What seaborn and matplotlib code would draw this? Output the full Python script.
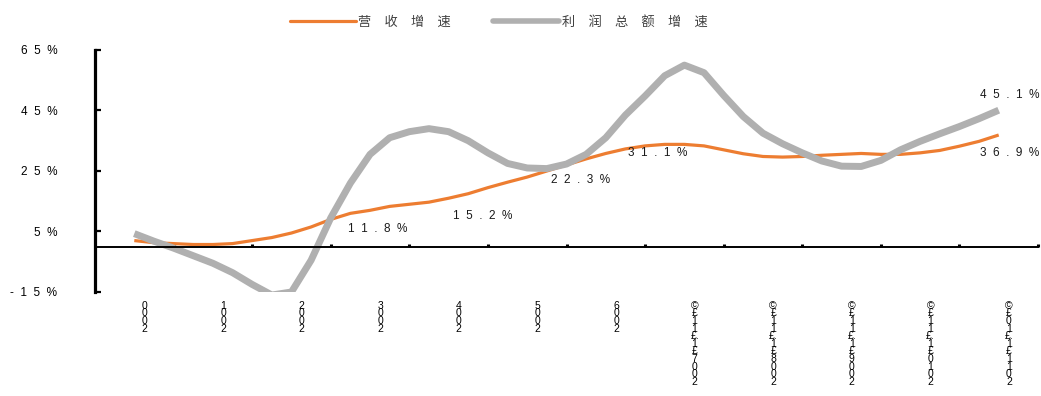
import numpy as np
import pandas as pd
import matplotlib
matplotlib.use("Agg")
import matplotlib.pyplot as plt
from matplotlib.lines import Line2D
import seaborn as sns

# ---------------- data ----------------
series_names = ["营\u3000收\u3000增\u3000速", "利\u3000润\u3000总\u3000额\u3000增\u3000速"]

# category tick labels (as they appear, characters stacked)
cat_labels = [
    "0\n0\n0\n2", "1\n0\n0\n2", "2\n0\n0\n2", "3\n0\n0\n2", "4\n0\n0\n2",
    "5\n0\n0\n2", "6\n0\n0\n2",
    "©\n£\n1\n1\n£.\n1\n£\n7\n0\n0\n2",
    "©\n£\n1\n1\n£.\n1\n£\n8\n0\n0\n2",
    "©\n£\n1\n1\n£.\n1\n£\n9\n0\n0\n2",
    "©\n£\n1\n1\n£.\n1\n£\n0\n1\n0\n2",
    "©\n£\n0\n1\n£.\n1\n£\n1\n1\n0\n2",
]

revenue = [2.0, 1.3, 1.0, 0.7, 0.7, 1.0, 2.0, 3.0, 4.5, 6.5, 9.0, 11.0, 12.0,
           13.3, 14.0, 14.7, 16.0, 17.5, 19.5, 21.3, 23.0, 25.0, 27.0, 29.0,
           30.8, 32.3, 33.3, 33.8, 33.8, 33.3, 32.0, 30.7, 29.8, 29.6, 29.8,
           30.2, 30.5, 30.8, 30.5, 30.5, 31.0, 31.8, 33.2, 34.8, 36.9]
profit = [4.3, 1.8, -0.5, -3.0, -5.5, -8.6, -12.5, -16.0, -15.0, -4.5, 9.5,
          21.0, 30.5, 36.0, 38.0, 39.0, 38.0, 35.0, 31.0, 27.5, 26.0, 25.8,
          27.3, 30.5, 36.0, 43.5, 49.8, 56.5, 60.0, 57.5, 50.0, 43.0, 37.5,
          34.0, 31.0, 28.3, 26.6, 26.5, 28.5, 32.0, 34.8, 37.3, 39.7, 42.3, 45.1]

y_ticks = [-15, 5, 25, 45, 65]
y_tick_labels = ["-  1  5  %", "5  %", "2  5  %", "4  5  %", "6  5  %"]

# data labels: (text, series index, point index)
value_labels = [
    ("1  1  .  8  %", 0, 12),
    ("1  5  .  2  %", 0, 18),
    ("2  2  .  3  %", 0, 23),
    ("3  1  .  1  %", 0, 27),
    ("3  6  .  9  %", 0, 44),
    ("4  5  .  1  %", 1, 44),
]

# ---------------- style ----------------
sns.set_theme(style="white")
plt.rcParams["font.family"] = ["Liberation Sans", "Noto Sans CJK SC", "DejaVu Sans"]

orange = "#ED7D31"
gray = "#B0B0B0"

n_cat = len(cat_labels)
t = 0.5 + 0.25 * np.arange(len(revenue))  # period position of each sample

df = pd.DataFrame({
    "t": np.concatenate([t, t]),
    "v": revenue + profit,
    "s": [series_names[0]] * len(revenue) + [series_names[1]] * len(profit),
})

fig = plt.figure(figsize=(10.41, 3.96), dpi=100)
ax = fig.add_axes([95 / 1041, 1 - 292 / 396, (1038 - 95) / 1041, (292 - 50) / 396])

sns.lineplot(data=df, x="t", y="v", hue="s", size="s",
             palette={series_names[0]: orange, series_names[1]: gray},
             sizes={series_names[0]: 2.3, series_names[1]: 5.0},
             hue_order=series_names, size_order=series_names,
             legend=False, ax=ax, sort=False)
for ln in ax.lines:
    ln.set_solid_capstyle("butt")
    ln.set_solid_joinstyle("round")

ax.set_xlim(0, n_cat)
ax.set_ylim(-15, 65)
ax.set_xlabel("")
ax.set_ylabel("")

for side in ["top", "right"]:
    ax.spines[side].set_visible(False)
ax.spines["left"].set_linewidth(2.3)
ax.spines["left"].set_color("black")
ax.spines["bottom"].set_position(("data", 0))
ax.spines["bottom"].set_linewidth(1.4)
ax.spines["bottom"].set_color("black")

# y axis
ax.set_yticks(y_ticks)
ax.set_yticklabels(y_tick_labels)
ax.tick_params(axis="y", direction="in", length=4, width=1.6, pad=27,
               labelsize=8.5, colors="black", left=True)

# x axis: boundary ticks + category labels
ax.set_xticks(np.arange(1, n_cat + 1))
ax.set_xticklabels([])
ax.set_xticks(np.arange(n_cat) + 0.63, minor=True)
ax.set_xticklabels(cat_labels, minor=True)
ax.tick_params(axis="x", which="major", direction="in", length=2.5, width=2.2,
               bottom=True, colors="black")
ax.tick_params(axis="x", which="minor", length=0, pad=39, labelsize=7.5,
               bottom=True, labelcolor="black")
for lbl in ax.get_xticklabels(minor=True):
    lbl.set_linespacing(0.7)
    lbl.set_verticalalignment("top")

# data labels
series_vals = [revenue, profit]
offsets = [(8, -19), (-5, -28), (-6, -21), (-7, -9), (11, -18), (11, 15)]
for (txt, si, pi), (dx, dy) in zip(value_labels, offsets):
    ax.annotate(txt, xy=(t[pi], series_vals[si][pi]), xycoords="data",
                xytext=(dx, dy), textcoords="offset pixels",
                ha="center", va="center", fontsize=8.5, color="#1a1a1a",
                annotation_clip=False)

# legend
handles = [Line2D([0], [0], color=orange, lw=2.3),
           Line2D([0], [0], color=gray, lw=4.0)]
fig.legend(handles, series_names, loc="upper center",
           bbox_to_anchor=(0.479, 0.99), ncol=2, frameon=False,
           handlelength=5.0, handletextpad=0.2, columnspacing=3.2,
           prop={"family": ["Noto Sans CJK SC", "DejaVu Sans"], "size": 9.5},
           labelcolor="#404040")

fig.savefig("out.png", dpi=100)
